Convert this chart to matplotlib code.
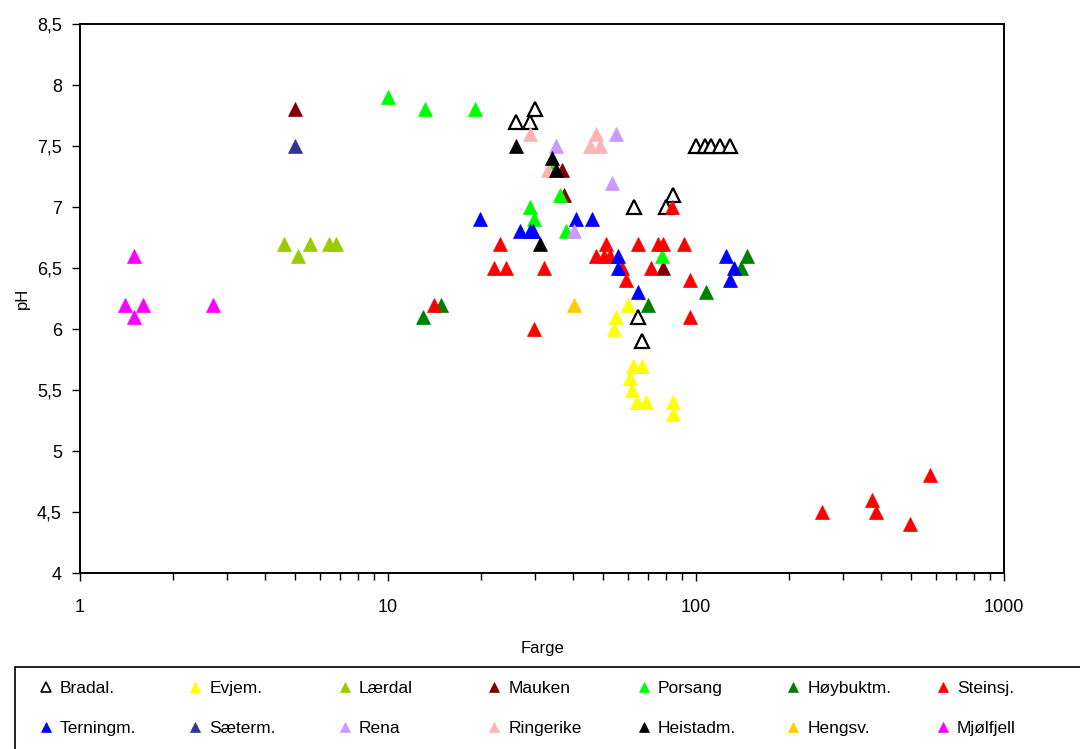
"""
plot.py — pH vs Farge (colour) scatter for 14 lakes, log x-axis
Writes out.png (1080x749).
"""

import matplotlib
matplotlib.use("Agg")
import matplotlib.pyplot as plt
from matplotlib.lines import Line2D
from matplotlib.patches import Rectangle
from matplotlib.ticker import FuncFormatter, LogLocator, FixedLocator

plt.rcParams["font.family"] = ["Liberation Sans", "DejaVu Sans"]

# ---- data ----
bradal_x = [26, 29, 30, 100, 107, 112, 120, 129, 63, 84, 80, 64.7, 67]
bradal_y = [7.7, 7.7, 7.8, 7.5, 7.5, 7.5, 7.5, 7.5, 7.0, 7.1, 7.0, 6.1, 5.9]

evjem_x = [60, 55, 54, 62.5, 67, 61, 62, 64.3, 69, 84, 84]
evjem_y = [6.2, 6.1, 6.0, 5.7, 5.7, 5.6, 5.5, 5.4, 5.4, 5.4, 5.3]

lardal_x = [4.6, 5.1, 5.6, 6.45, 6.8]
lardal_y = [6.7, 6.6, 6.7, 6.7, 6.7]

mauken_x = [5.0, 36.6, 37.3, 78]
mauken_y = [7.8, 7.3, 7.1, 6.5]

porsang_x = [10, 13.2, 19.2, 28.9, 29.8, 36.2, 34, 37.8, 77.5]
porsang_y = [7.9, 7.8, 7.8, 7.0, 6.9, 7.1, 7.3, 6.8, 6.6]

hoybukt_x = [13, 14.9, 70, 108, 146, 139.5]
hoybukt_y = [6.1, 6.2, 6.2, 6.3, 6.6, 6.5]

steinsj_x = [14.1, 23.1, 22.1, 24.2, 32.1, 29.8, 47.4, 50.3, 51, 52.7,
             57.4, 59.2, 64.9, 75.3, 78, 71.7, 91.4, 95.6, 95.6, 83.8,
             257, 373, 384, 495, 575]
steinsj_y = [6.2, 6.7, 6.5, 6.5, 6.5, 6.0, 6.6, 6.6, 6.7, 6.6,
             6.5, 6.4, 6.7, 6.7, 6.7, 6.5, 6.7, 6.4, 6.1, 7.0,
             4.5, 4.6, 4.5, 4.4, 4.8]

terning_x = [19.9, 26.8, 28.9, 29.6, 40.8, 45.9, 55.9, 55.9, 65, 125, 132.8, 128.9]
terning_y = [6.9, 6.8, 6.8, 6.8, 6.9, 6.9, 6.6, 6.5, 6.3, 6.6, 6.5, 6.4]

saeterm_x = [5.0]
saeterm_y = [7.5]

rena_x = [35.1, 55, 53.4, 40.2]
rena_y = [7.5, 7.6, 7.2, 6.8]

ringerike_x = [28.9, 47.2, 45.3, 48.8, 33]
ringerike_y = [7.6, 7.6, 7.5, 7.5, 7.3]

heistad_x = [26.1, 34, 35.1, 31.2]
heistad_y = [7.5, 7.4, 7.3, 6.7]

hengsv_x = [40.2]
hengsv_y = [6.2]

mjolfjell_x = [1.5, 1.4, 1.6, 1.5, 2.7]
mjolfjell_y = [6.6, 6.2, 6.2, 6.1, 6.2]

# (label, x, y, face colour) in legend order
SERIES = [
    ("Bradal.", bradal_x, bradal_y, "white"),
    ("Evjem.", evjem_x, evjem_y, "#FFFF00"),
    ("Lærdal", lardal_x, lardal_y, "#99CC00"),
    ("Mauken", mauken_x, mauken_y, "#800000"),
    ("Porsang", porsang_x, porsang_y, "#00FF00"),
    ("Høybuktm.", hoybukt_x, hoybukt_y, "#008000"),
    ("Steinsj.", steinsj_x, steinsj_y, "#FF0000"),
    ("Terningm.", terning_x, terning_y, "#0000FF"),
    ("Sæterm.", saeterm_x, saeterm_y, "#333399"),
    ("Rena", rena_x, rena_y, "#CC99FF"),
    ("Ringerike", ringerike_x, ringerike_y, "#FFB3B3"),
    ("Heistadm.", heistad_x, heistad_y, "#000000"),
    ("Hengsv.", hengsv_x, hengsv_y, "#FFCC00"),
    ("Mjølfjell", mjolfjell_x, mjolfjell_y, "#FF00FF"),
]

W, H = 1080, 749


def comma(v, _pos):
    s = f"{v:g}"
    return s.replace(".", ",")


def main():
    fig = plt.figure(figsize=(W / 100, H / 100), dpi=100)
    ax = fig.add_axes([80 / W, 1 - 573 / H, (1004 - 80) / W, (573 - 24) / H])

    handles = []
    for label, xs, ys, col in SERIES:
        if col == "white":
            mec, mew = "black", 1.6
        else:
            mec, mew = col, 0.5
        ax.plot(xs, ys, ls="none", marker="^", ms=9.5, mfc=col, mec=mec, mew=mew)
        handles.append(Line2D([], [], ls="none", marker="^", ms=6.5,
                              mfc=col, mec=mec, mew=1.2 if col == "white" else 0.5,
                              label=label))

    ax.set_xscale("log")
    ax.set_xlim(1, 1000)
    ax.set_ylim(4, 8.5)
    ax.xaxis.set_major_locator(FixedLocator([1, 10, 100, 1000]))
    ax.xaxis.set_minor_locator(LogLocator(base=10, subs=range(2, 10)))
    ax.xaxis.set_major_formatter(FuncFormatter(lambda v, p: f"{v:g}"))
    ax.xaxis.set_minor_formatter(FuncFormatter(lambda v, p: ""))
    ax.set_yticks([4, 4.5, 5, 5.5, 6, 6.5, 7, 7.5, 8, 8.5])
    ax.yaxis.set_major_formatter(FuncFormatter(comma))

    for sp in ax.spines.values():
        sp.set_linewidth(1.4)
    ax.tick_params(axis="both", which="major", direction="out", length=6,
                   width=1.0, labelsize=13)
    ax.tick_params(axis="x", which="minor", direction="out", length=5, width=1.0)
    ax.tick_params(axis="x", which="both", pad=13)
    ax.tick_params(axis="y", pad=7)

    ax.set_xlabel("Farge", fontsize=12, labelpad=18)
    ax.set_ylabel("pH", fontsize=12, labelpad=5)

    # legend: 7 equally spaced columns, 2 rows, box running off the figure edge
    top = 1 - 681 / H
    for i in range(7):
        col_handles = [handles[i], handles[i + 7]]
        fig.legend(handles=col_handles, loc="upper left",
                   bbox_to_anchor=((39 + 149.5 * i) / W, top),
                   frameon=False, fontsize=12.5, handlelength=0.8,
                   handletextpad=0.4, labelspacing=1.45,
                   borderpad=0, borderaxespad=0)
    fig.patches.append(Rectangle((15 / W, -0.1), 1.2, (H - 667) / H + 0.1,
                                 transform=fig.transFigure, fill=False,
                                 edgecolor="black", lw=1.2))

    fig.savefig("out.png", dpi=100)
    plt.close(fig)


if __name__ == "__main__":
    main()
